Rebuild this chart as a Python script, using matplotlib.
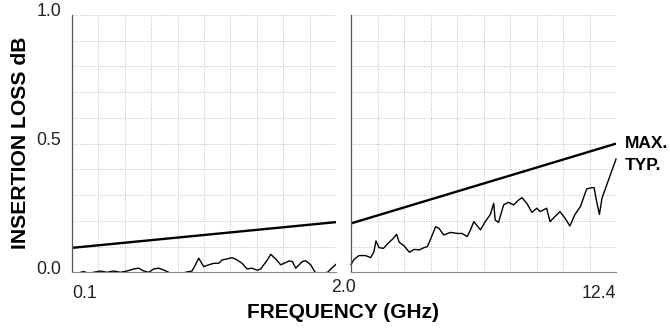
import matplotlib.pyplot as plt
import numpy as np

plt.rcParams['font.family'] = ['Liberation Sans', 'DejaVu Sans']

# Maximum (specified) insertion loss, straight lines per band
max_lo_f = [0.1, 2.0]
max_lo_db = [0.095, 0.195]
max_hi_f = [2.0, 12.4]
max_hi_db = [0.19, 0.50]

# Typical measured insertion loss, 0.1 - 2.0 GHz
typ_lo_f = [0.100, 0.136, 0.184, 0.220, 0.256, 0.304, 0.352, 0.400, 0.448,
            0.496, 0.544, 0.580, 0.616, 0.652, 0.688, 0.724, 0.760, 0.796,
            0.820, 0.880, 0.916, 0.964, 0.988, 1.012, 1.048, 1.084, 1.120,
            1.156, 1.180, 1.216, 1.252, 1.288, 1.324, 1.360, 1.396, 1.432,
            1.458, 1.480, 1.506, 1.530, 1.566, 1.602, 1.626, 1.662, 1.686,
            1.710, 1.734, 1.758, 1.782, 1.818, 1.850, 1.884,
            1.940, 1.972, 2.000]
typ_lo_db = [0.000, -0.004, 0.003, -0.004, 0.000, 0.005, 0.000, 0.005, 0.000,
             0.005, 0.013, 0.016, 0.005, 0.000, 0.013, 0.016, 0.009, 0.000,
             -0.010, -0.010, 0.000, 0.005, 0.029, 0.055, 0.022, 0.029, 0.035,
             0.035, 0.048, 0.052, 0.057, 0.048, 0.035, 0.013, 0.016, 0.008,
             0.013, 0.029, 0.048, 0.070, 0.052, 0.029, 0.035, 0.044, 0.042,
             0.016, 0.029, 0.042, 0.045, 0.029, 0.000, -0.004,
             0.000, 0.018, 0.031]

# Typical measured insertion loss, 2.0 - 12.4 GHz
typ_hi_f = [2.00, 2.12, 2.31, 2.57, 2.77, 2.90, 2.98, 3.10, 3.27, 3.46,
            3.66, 3.79, 3.89, 4.09, 4.29, 4.48, 4.68, 4.87, 5.00, 5.19,
            5.32, 5.45, 5.64, 5.90, 6.17, 6.36, 6.56, 6.69, 6.82, 7.08,
            7.27, 7.47, 7.60, 7.66, 7.79, 7.99, 8.18, 8.38, 8.58, 8.71,
            8.90, 9.10, 9.29, 9.42, 9.68, 9.81, 10.00, 10.20, 10.40, 10.59,
            10.79, 11.00, 11.25, 11.45, 11.54, 11.64, 11.75, 11.85, 12.40]
typ_hi_db = [0.031, 0.050, 0.065, 0.065, 0.057, 0.080, 0.122, 0.096, 0.093, 0.113,
             0.132, 0.148, 0.117, 0.102, 0.078, 0.089, 0.087, 0.096, 0.100, 0.145,
             0.177, 0.171, 0.145, 0.155, 0.151, 0.151, 0.139, 0.165, 0.197, 0.165,
             0.197, 0.225, 0.268, 0.203, 0.194, 0.262, 0.272, 0.262, 0.281, 0.290,
             0.268, 0.233, 0.249, 0.236, 0.249, 0.197, 0.216, 0.236, 0.210, 0.180,
             0.225, 0.255, 0.324, 0.329, 0.329, 0.275, 0.225, 0.288, 0.44]

fig = plt.figure(figsize=(6.7, 3.3), dpi=100)
ax1 = fig.add_axes([72 / 670, 57.7 / 330, 264 / 670, 257.3 / 330])
ax2 = fig.add_axes([351 / 670, 57.7 / 330, 265 / 670, 257.3 / 330])

grid_kw = dict(color='#a8a8a8', linestyle=(0, (1, 2)), linewidth=0.6)

for ax, lo, hi in [(ax1, 0.1, 2.0), (ax2, 2.0, 12.4)]:
    ax.set_xlim(lo, hi)
    ax.set_ylim(0, 1.0)
    ax.set_xticks(np.linspace(lo, hi, 11))
    ax.set_yticks(np.linspace(0, 1.0, 11))
    ax.grid(True, **grid_kw)
    ax.tick_params(length=0, labelbottom=False, labelleft=False)
    for side in ['top', 'right']:
        ax.spines[side].set_visible(False)
    ax.spines['left'].set_color('#555555')
    ax.spines['left'].set_linewidth(0.9)
    ax.spines['bottom'].set_color('#888888')
    ax.spines['bottom'].set_linewidth(0.8)
    ax.set_axisbelow(True)

ax1.plot(max_lo_f, max_lo_db, color='black', lw=1.7, solid_capstyle='butt')
ax2.plot(max_hi_f, max_hi_db, color='black', lw=1.7, solid_capstyle='butt')
ax1.plot(typ_lo_f, typ_lo_db, color='black', lw=1.0)
ax2.plot(typ_hi_f, typ_hi_db, color='black', lw=1.0, clip_on=False)

# y tick labels
for val, txt in [(1.0, '1.0'), (0.5, '0.5'), (0.0, '0.0')]:
    ax1.text(-0.04, val + 0.012, txt, transform=ax1.get_yaxis_transform(),
             ha='right', va='center', fontsize=12.8, color='#222222')

# x tick labels
ax1.text(0.1, -0.05, '0.1', transform=ax1.get_xaxis_transform(),
         ha='left', va='top', fontsize=12.8, color='#222222')
fig.text(343 / 670, 1 - 287 / 330, '2.0', ha='center', va='center',
         fontsize=12.8, color='#222222')
ax2.text(12.4, -0.05, '12.4', transform=ax2.get_xaxis_transform(),
         ha='right', va='top', fontsize=12.8, color='#222222')

fig.text(343 / 670, 1 - 312 / 330, 'FREQUENCY (GHz)', ha='center', va='center',
         fontsize=15, fontweight='bold')
fig.text(21 / 670, 1 - 143 / 330, 'INSERTION LOSS dB', ha='center', va='center',
         rotation=90, fontsize=15.2, fontweight='bold')

fig.text(625 / 670, 1 - 144 / 330, 'MAX.', ha='left', va='center',
         fontsize=12.5, fontweight='bold')
fig.text(625 / 670, 1 - 165 / 330, 'TYP.', ha='left', va='center',
         fontsize=12.5, fontweight='bold')

fig.savefig('out.png', dpi=100)
